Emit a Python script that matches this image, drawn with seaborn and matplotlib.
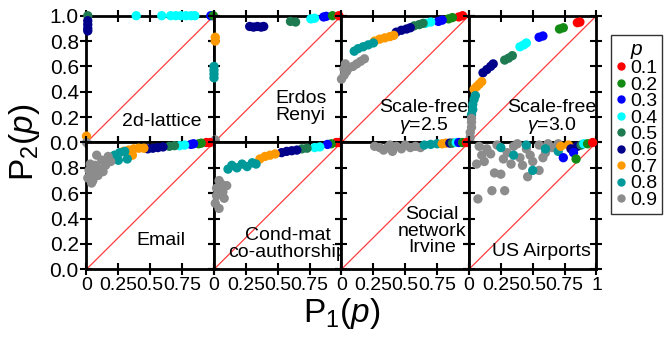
import matplotlib
matplotlib.use("Agg")
import matplotlib.pyplot as plt
from matplotlib.lines import Line2D
import pandas as pd
import seaborn as sns

# occupation probability p and its colour
p_levels = [0.1, 0.2, 0.3, 0.4, 0.5, 0.6, 0.7, 0.8, 0.9]
p_colors = ["#ff0000", "#138a13", "#0000ff", "#00ffff", "#1e7a50",
            "#00008b", "#ff9900", "#009999", "#8c8c8c"]

# (p, P1, P2)
lattice = [
    (0.5, 0.01, 1.0),
    (0.6, 0.01, 0.96), (0.6, 0.01, 0.93), (0.6, 0.01, 0.90), (0.6, 0.01, 0.88),
    (0.4, 0.39, 1.0), (0.4, 0.59, 1.0), (0.4, 0.66, 1.0), (0.4, 0.70, 1.0),
    (0.4, 0.74, 1.0), (0.4, 0.78, 1.0), (0.4, 0.82, 1.0), (0.4, 0.85, 1.0),
    (0.3, 0.975, 1.0), (0.2, 0.995, 1.0),
    (0.7, 0.0, 0.05), (0.9, 0.0, 0.0),
]
erdos = [
    (0.6, 0.28, 0.915), (0.6, 0.31, 0.91), (0.6, 0.34, 0.915), (0.6, 0.37, 0.91), (0.6, 0.39, 0.915),
    (0.5, 0.60, 0.955), (0.5, 0.64, 0.95),
    (0.4, 0.76, 0.975), (0.4, 0.79, 0.98),
    (0.3, 0.86, 0.99), (0.3, 0.88, 0.995),
    (0.2, 0.93, 1.0), (0.1, 0.98, 1.0),
    (0.7, 0.01, 0.83), (0.7, 0.01, 0.80),
    (0.8, 0.0, 0.60), (0.8, 0.0, 0.57), (0.8, 0.0, 0.54), (0.8, 0.0, 0.51),
    (0.9, 0.01, 0.02),
]
sf25 = [
    (0.1, 0.92, 0.99), (0.1, 0.95, 1.0),
    (0.2, 0.84, 0.975), (0.2, 0.87, 0.985),
    (0.3, 0.76, 0.955), (0.3, 0.79, 0.965),
    (0.4, 0.66, 0.94), (0.4, 0.70, 0.95),
    (0.5, 0.57, 0.92), (0.5, 0.61, 0.93), (0.5, 0.64, 0.94),
    (0.6, 0.43, 0.87), (0.6, 0.47, 0.885), (0.6, 0.51, 0.895), (0.6, 0.54, 0.905),
    (0.7, 0.26, 0.80), (0.7, 0.30, 0.815), (0.7, 0.34, 0.825), (0.7, 0.38, 0.835), (0.7, 0.41, 0.845),
    (0.8, 0.10, 0.72), (0.8, 0.13, 0.74), (0.8, 0.17, 0.755), (0.8, 0.21, 0.77), (0.8, 0.25, 0.785),
    (0.9, 0.0, 0.50), (0.9, 0.02, 0.53), (0.9, 0.04, 0.56), (0.9, 0.02, 0.58), (0.9, 0.06, 0.59),
    (0.9, 0.09, 0.60), (0.9, 0.12, 0.62), (0.9, 0.15, 0.64), (0.9, 0.18, 0.66), (0.9, 0.03, 0.62),
]
sf30 = [
    (0.1, 0.85, 0.945), (0.1, 0.87, 0.95),
    (0.2, 0.71, 0.895), (0.2, 0.74, 0.905),
    (0.3, 0.55, 0.83), (0.3, 0.58, 0.84),
    (0.4, 0.40, 0.755), (0.4, 0.43, 0.77), (0.4, 0.45, 0.785),
    (0.5, 0.28, 0.65), (0.5, 0.31, 0.665), (0.5, 0.34, 0.685),
    (0.6, 0.11, 0.55), (0.6, 0.14, 0.575), (0.6, 0.17, 0.60), (0.6, 0.19, 0.62),
    (0.7, 0.04, 0.42), (0.7, 0.06, 0.44), (0.7, 0.08, 0.46), (0.7, 0.10, 0.48),
    (0.8, 0.02, 0.22), (0.8, 0.03, 0.26), (0.8, 0.03, 0.30), (0.8, 0.04, 0.34), (0.8, 0.05, 0.37),
    (0.9, 0.01, 0.04), (0.9, 0.01, 0.08), (0.9, 0.02, 0.12), (0.9, 0.02, 0.16), (0.9, 0.02, 0.19),
]
email = [
    (0.1, 0.94, 1.0), (0.1, 0.97, 1.0),
    (0.2, 0.88, 0.99), (0.2, 0.90, 0.995),
    (0.3, 0.82, 0.985), (0.3, 0.84, 0.99),
    (0.4, 0.73, 0.975), (0.4, 0.77, 0.98),
    (0.5, 0.65, 0.97), (0.5, 0.69, 0.975),
    (0.6, 0.48, 0.95), (0.6, 0.52, 0.955), (0.6, 0.56, 0.96), (0.6, 0.60, 0.965),
    (0.7, 0.29, 0.93), (0.7, 0.33, 0.94), (0.7, 0.37, 0.95), (0.7, 0.41, 0.955),
    (0.7, 0.45, 0.955), (0.7, 0.36, 0.90),
    (0.8, 0.18, 0.87), (0.8, 0.22, 0.90), (0.8, 0.26, 0.92), (0.8, 0.30, 0.93),
    (0.8, 0.25, 0.86), (0.8, 0.32, 0.87),
    (0.9, 0.01, 0.72), (0.9, 0.02, 0.78), (0.9, 0.03, 0.83), (0.9, 0.05, 0.70),
    (0.9, 0.06, 0.76), (0.9, 0.07, 0.82), (0.9, 0.09, 0.74), (0.9, 0.10, 0.79),
    (0.9, 0.12, 0.86), (0.9, 0.13, 0.77), (0.9, 0.15, 0.82), (0.9, 0.17, 0.89),
    (0.9, 0.19, 0.85), (0.9, 0.08, 0.90), (0.9, 0.04, 0.68),
]
condmat = [
    (0.1, 0.96, 1.0), (0.1, 0.98, 1.0),
    (0.2, 0.92, 0.99), (0.3, 0.89, 0.985),
    (0.4, 0.79, 0.96), (0.4, 0.83, 0.965),
    (0.5, 0.69, 0.95), (0.5, 0.73, 0.955),
    (0.6, 0.53, 0.92), (0.6, 0.57, 0.93), (0.6, 0.61, 0.935), (0.6, 0.65, 0.94),
    (0.7, 0.36, 0.87), (0.7, 0.40, 0.89), (0.7, 0.44, 0.90), (0.7, 0.48, 0.91),
    (0.8, 0.11, 0.79), (0.8, 0.14, 0.82), (0.8, 0.18, 0.80), (0.8, 0.22, 0.83),
    (0.8, 0.26, 0.81), (0.8, 0.30, 0.84), (0.8, 0.33, 0.83),
    (0.9, 0.01, 0.52), (0.9, 0.02, 0.58), (0.9, 0.02, 0.64), (0.9, 0.04, 0.70),
    (0.9, 0.06, 0.67), (0.9, 0.07, 0.61), (0.9, 0.08, 0.56), (0.9, 0.10, 0.66),
    (0.9, 0.04, 0.48),
]
irvine = [
    (0.9, 0.26, 0.97), (0.9, 0.30, 0.96), (0.9, 0.33, 0.94), (0.9, 0.36, 0.96),
    (0.9, 0.40, 0.93), (0.9, 0.43, 0.97), (0.9, 0.47, 0.95), (0.9, 0.50, 0.98),
    (0.9, 0.54, 0.96), (0.9, 0.58, 0.97), (0.9, 0.62, 0.96), (0.9, 0.38, 0.98),
    (0.8, 0.65, 0.98), (0.8, 0.70, 0.985), (0.8, 0.75, 0.99),
    (0.7, 0.79, 0.99), (0.7, 0.82, 0.995),
    (0.6, 0.85, 0.995), (0.5, 0.87, 0.995), (0.4, 0.90, 1.0),
    (0.3, 0.92, 1.0), (0.2, 0.95, 1.0), (0.1, 0.98, 1.0),
]
airports = [
    (0.9, 0.07, 0.555), (0.9, 0.18, 0.62), (0.9, 0.28, 0.62), (0.9, 0.20, 0.76),
    (0.9, 0.25, 0.75), (0.9, 0.46, 0.73), (0.9, 0.55, 0.78), (0.9, 0.10, 0.90),
    (0.9, 0.06, 0.83), (0.9, 0.14, 0.95), (0.9, 0.22, 0.98), (0.9, 0.30, 0.92),
    (0.9, 0.35, 0.97), (0.9, 0.40, 0.88), (0.9, 0.45, 0.95), (0.9, 0.50, 0.85),
    (0.9, 0.55, 0.98), (0.9, 0.60, 0.92), (0.9, 0.65, 0.96), (0.9, 0.70, 0.99),
    (0.9, 0.12, 0.85), (0.9, 0.33, 0.83), (0.9, 0.38, 0.99), (0.9, 0.48, 0.90),
    (0.9, 0.27, 0.87), (0.9, 0.58, 0.88), (0.9, 0.17, 0.91), (0.9, 0.42, 0.82),
    (0.9, 0.62, 0.99), (0.9, 0.08, 0.97),
    (0.8, 0.50, 0.78), (0.8, 0.35, 0.90), (0.8, 0.60, 0.95), (0.8, 0.70, 0.93),
    (0.8, 0.45, 0.98), (0.8, 0.25, 0.96),
    (0.7, 0.72, 0.97), (0.7, 0.78, 0.98),
    (0.6, 0.80, 0.95), (0.6, 0.85, 0.97),
    (0.5, 0.88, 0.98),
    (0.3, 0.74, 0.88), (0.3, 0.82, 0.92),
    (0.4, 0.90, 0.99),
    (0.2, 0.84, 0.87), (0.2, 0.93, 0.99),
    (0.1, 0.97, 1.0),
]

panels = [lattice, erdos, sf25, sf30, email, condmat, irvine, airports]
panel_labels = ["2d-lattice", "Erdos\nRenyi", "Scale-free\n$\\gamma$=2.5", "Scale-free\n$\\gamma$=3.0",
                "Email", "Cond-mat\nco-authorship", "Social\nnetwork\nIrvine", "US Airports"]
label_pos = [(0.59, 0.165), (0.68, 0.28), (0.645, 0.2), (0.65, 0.2),
             (0.58, 0.225), (0.58, 0.2), (0.71, 0.3), (0.57, 0.14)]

x_ticks = [0, 0.25, 0.5, 0.75, 1]
x_ticklabels = ["0", "0.25", "0.5", "0.75", "1"]
y_ticks = [0, 0.2, 0.4, 0.6, 0.8, 1.0]
y_ticklabels = ["0.0", "0.2", "0.4", "0.6", "0.8", "1.0"]

sns.set_style("ticks")
plt.rcParams["font.family"] = ["Liberation Sans", "DejaVu Sans"]
plt.rcParams["mathtext.fontset"] = "custom"
plt.rcParams["mathtext.rm"] = "Liberation Sans"
plt.rcParams["mathtext.it"] = "Liberation Sans:italic"
for key in ["text.color", "axes.labelcolor", "xtick.color", "ytick.color", "axes.edgecolor"]:
    plt.rcParams[key] = "black"

palette = dict(zip(p_levels, p_colors))

fig, axes = plt.subplots(2, 4, figsize=(6.72, 3.39), dpi=100)
fig.subplots_adjust(left=0.1287, right=0.8876, top=0.9537, bottom=0.2056, wspace=0, hspace=0)

for i, ax in enumerate(axes.flat):
    r, c = divmod(i, 4)
    df = pd.DataFrame(panels[i], columns=["p", "P1", "P2"])
    ax.plot([0, 1], [0, 1], color="#ff3c3c", lw=0.9, zorder=1)
    sns.scatterplot(data=df, x="P1", y="P2", hue="p", palette=palette, ax=ax,
                    s=45, linewidth=0, legend=False, clip_on=False, zorder=3)
    ax.set_xlim(0, 1)
    ax.set_ylim(0, 1)
    ax.set_xlabel("")
    ax.set_ylabel("")
    for sp in ax.spines.values():
        sp.set_visible(True)
        sp.set_linewidth(2)
        sp.set_color("black")
    ax.set_xticks(x_ticks)
    ax.set_yticks(y_ticks)
    ax.tick_params(direction="inout", length=9, width=1.5, top=True, right=True, pad=1,
                   colors="black")
    ax.tick_params(axis="y", labelsize=15)
    ax.tick_params(axis="x", labelsize=14)
    if c == 0:
        ylab = list(y_ticklabels)
        if r == 1:
            ylab[-1] = ""
        ax.set_yticklabels(ylab)
    else:
        ax.tick_params(labelleft=False)
    if r == 1:
        xlab = list(x_ticklabels)
        if c < 3:
            xlab[-1] = ""
        ax.set_xticklabels(xlab)
    else:
        ax.tick_params(labelbottom=False)
    lx, ly = label_pos[i]
    ax.text(lx, ly, panel_labels[i], ha="center", va="center", fontsize=14,
            linespacing=0.95, zorder=4)

fig.text(0.037, 0.58, "P$_2$($p$)", rotation=90, ha="center", va="center", fontsize=24)
fig.text(0.508, 0.075, "P$_1$($p$)", ha="center", va="center", fontsize=24)

handles = [Line2D([], [], marker="o", ls="", color=col, markersize=5) for col in p_colors]
leg = fig.legend(handles, [str(p) for p in p_levels], title="$p$", loc="upper left",
                 bbox_to_anchor=(0.909, 0.897), frameon=True, fancybox=False,
                 fontsize=14, title_fontsize=15, handletextpad=0.25, labelspacing=-0.06,
                 borderpad=0.25, handlelength=0.5, borderaxespad=0)
leg.get_frame().set_edgecolor("black")
leg.get_frame().set_linewidth(1)

fig.savefig("out.png", dpi=100)
